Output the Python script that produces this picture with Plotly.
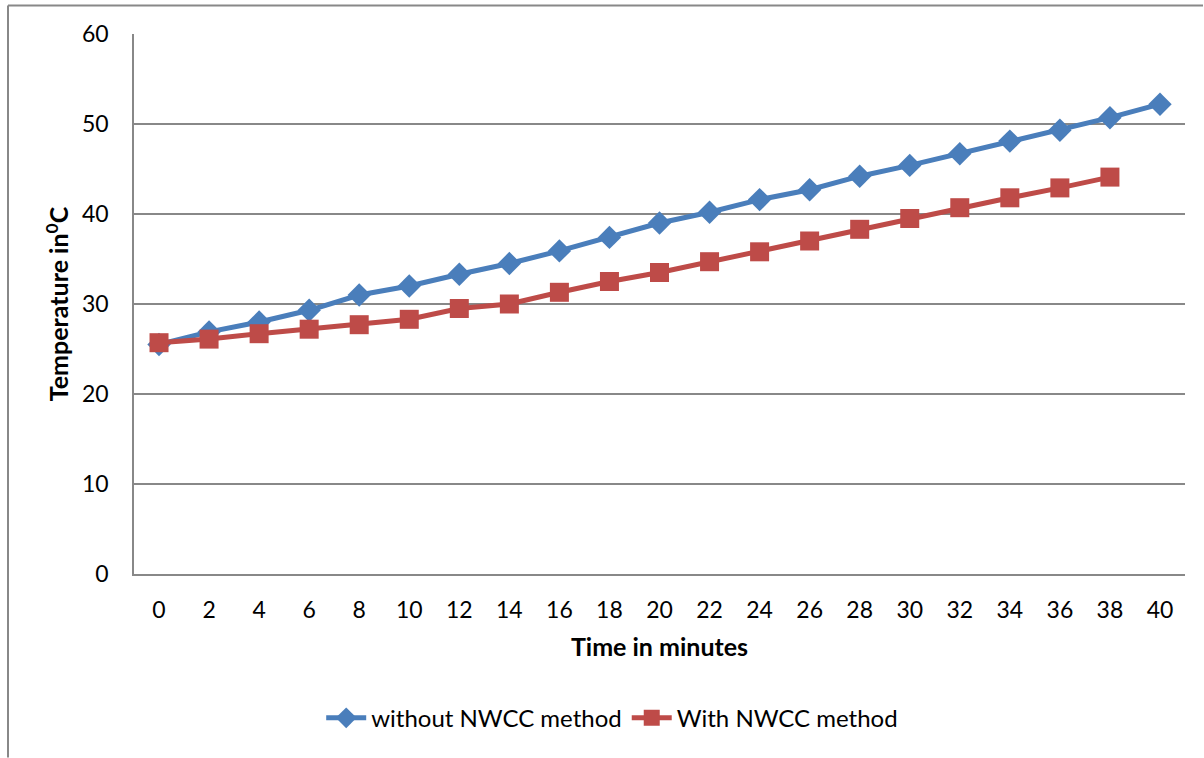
import plotly.graph_objects as go

time_labels = ["0", "2", "4", "6", "8", "10", "12", "14", "16", "18", "20",
               "22", "24", "26", "28", "30", "32", "34", "36", "38", "40"]
without_nwcc = [25.5, 26.9, 28.0, 29.3, 31.0, 32.0, 33.3, 34.5, 35.9, 37.4, 39.0,
                40.2, 41.6, 42.7, 44.2, 45.4, 46.7, 48.1, 49.3, 50.7, 52.2]
with_nwcc = [25.7, 26.1, 26.7, 27.2, 27.7, 28.3, 29.5, 30.0, 31.3, 32.5, 33.5,
             34.7, 35.8, 37.0, 38.3, 39.5, 40.7, 41.8, 42.9, 44.1]

BLUE = "#4A7EBB"
RED = "#BE4B48"
GRID = "#888888"
FONT = "Lato"

fig = go.Figure()
fig.add_trace(go.Scatter(
    x=time_labels, y=without_nwcc, mode="lines+markers",
    name="without NWCC method",
    line=dict(color=BLUE, width=5),
    marker=dict(symbol="diamond", size=18, color=BLUE),
))
fig.add_trace(go.Scatter(
    x=time_labels[:len(with_nwcc)], y=with_nwcc, mode="lines+markers",
    name="With NWCC method",
    line=dict(color=RED, width=5),
    marker=dict(symbol="square", size=19, color=RED),
))

left_px = (8 - 134) / 1051
right_px = (1203 - 134) / 1051
top_py = (574 - 5.5) / 540

fig.update_layout(
    width=1204, height=758,
    margin=dict(l=134, r=19, t=34, b=184),
    paper_bgcolor="white", plot_bgcolor="white",
    font=dict(family=FONT, size=18, color="black"),
    showlegend=True,
    legend=dict(orientation="h", x=0.455, xanchor="center", y=-0.267, yanchor="middle",
                font=dict(family=FONT, size=24, color="black"), itemwidth=40,
                traceorder="normal"),
    xaxis=dict(type="category", categoryorder="array", categoryarray=time_labels,
               range=[-0.5, 20.5], showgrid=False, showline=True, linecolor=GRID, linewidth=1.5,
               ticks="", ticklabelstandoff=15, tickfont=dict(family=FONT, size=23),
               title=dict(text="<b>Time in minutes</b>", font=dict(family=FONT, size=25), standoff=16),
               zeroline=False, fixedrange=True),
    yaxis=dict(range=[0, 60], dtick=10, showgrid=True, gridcolor=GRID, gridwidth=1.5,
               showline=True, linecolor=GRID, linewidth=1.5, ticks="",
               ticklabelstandoff=19, tickfont=dict(family=FONT, size=23),
               title=dict(text="<b>Temperature in<sup>0</sup>C</b>", font=dict(family=FONT, size=25), standoff=6),
               zeroline=False, fixedrange=True),
    shapes=[
        dict(type="line", xref="paper", yref="paper", x0=left_px, x1=right_px, y0=top_py, y1=top_py,
             line=dict(color=GRID, width=2)),
        dict(type="line", xref="paper", yref="paper", x0=left_px, x1=left_px, y0=top_py, y1=-0.34,
             line=dict(color=GRID, width=2)),
    ],
)

fig.write_html("out.html", config={"displayModeBar": False},
               post_script="document.body.style.margin='0';document.body.style.overflow='hidden';")
